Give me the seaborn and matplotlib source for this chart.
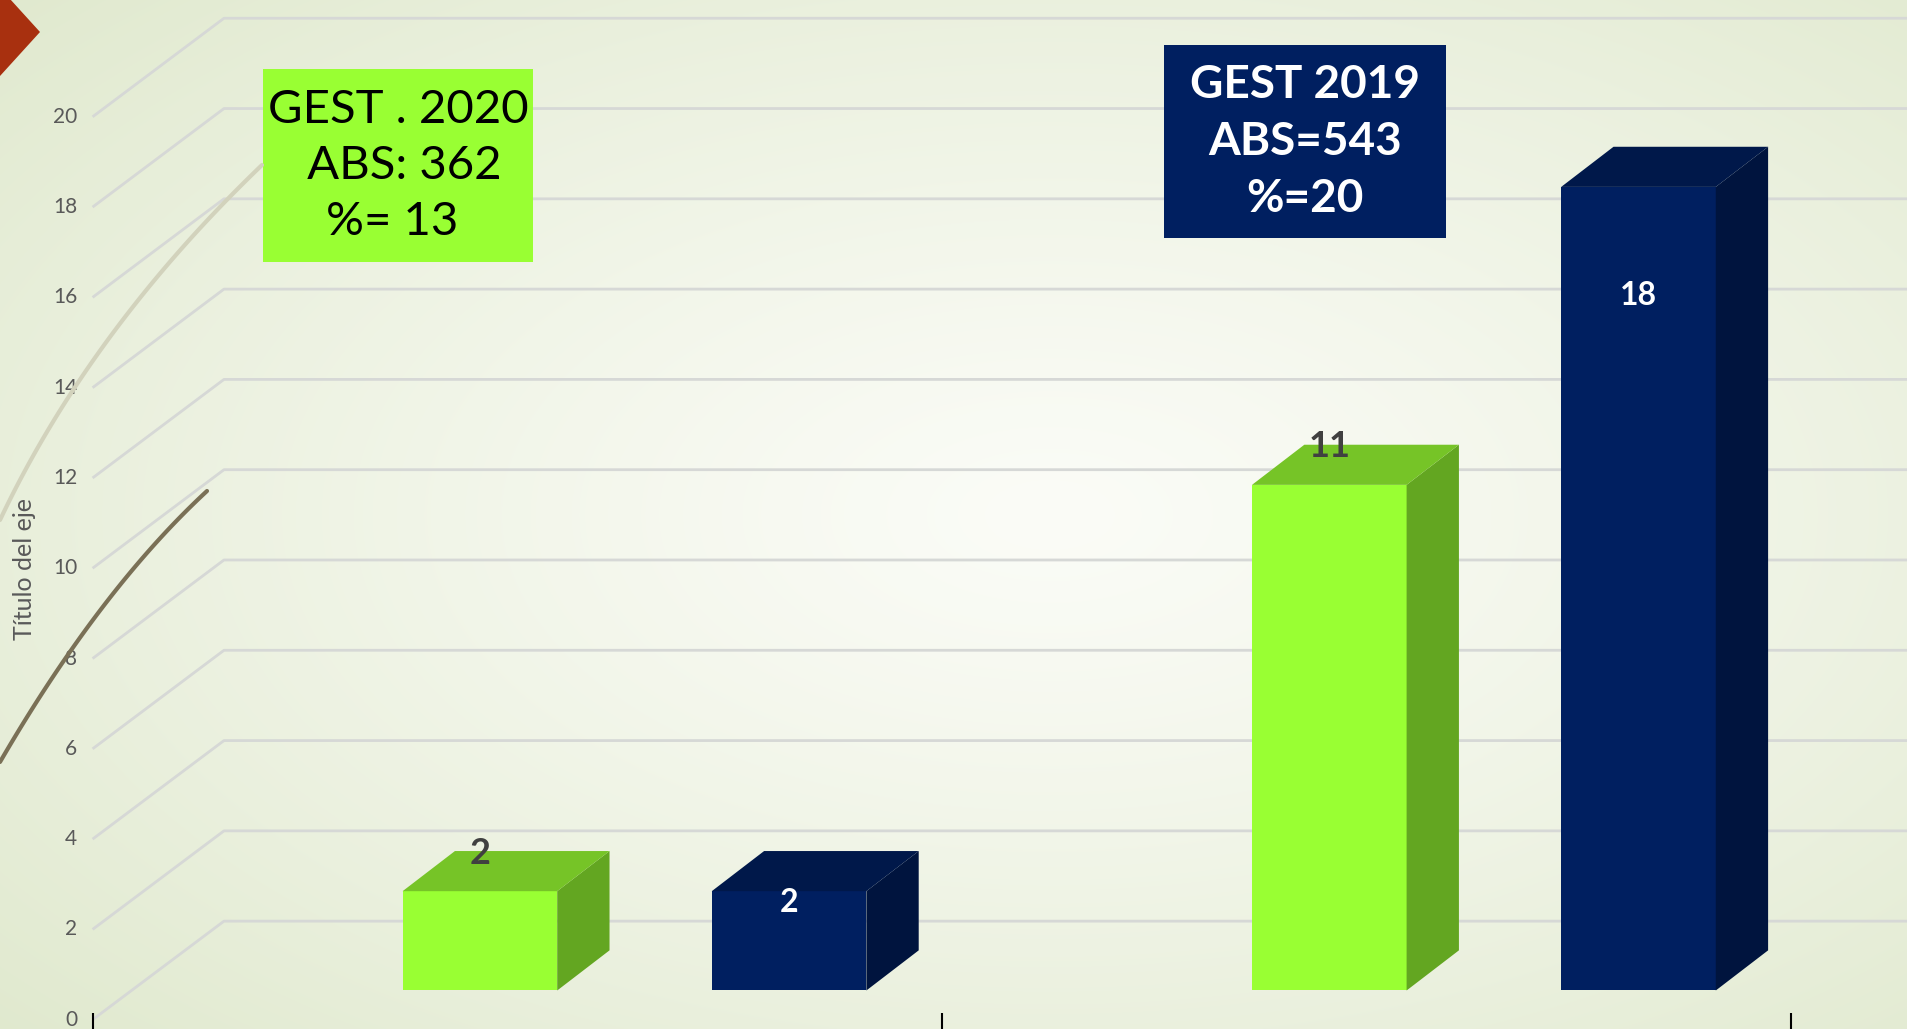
import numpy as np
import pandas as pd
import matplotlib
matplotlib.use("Agg")
import matplotlib.pyplot as plt
from matplotlib.patches import Polygon, Rectangle
import seaborn as sns

# data (bar heights, rounded labels shown on the bars)
grupos = ["Grupo 1", "Grupo 2"]
serie_2020 = [2.2, 11.2]
serie_2019 = [2.2, 17.8]
etiquetas_2020 = ["2", "11"]
etiquetas_2019 = ["2", "18"]
yticks = list(range(0, 21, 2))

texto_2020 = "GEST . 2020\n ABS: 362\n%= 13 "
texto_2019 = "GEST 2019\nABS=543\n%=20"

verde = "#99FF33"
azul = "#001F60"

W, H = 1908, 1029

sns.set_theme(style="white")
plt.rcParams["font.family"] = ["Lato", "DejaVu Sans"]

fig = plt.figure(figsize=(W / 100, H / 100), dpi=100)

# background: soft radial gradient like the slide theme
bg = fig.add_axes([0, 0, 1, 1], zorder=0)
yy, xx = np.mgrid[0:H, 0:W]
d = np.sqrt(((xx - 0.55 * W) / (0.75 * W)) ** 2 + ((yy - 0.5 * H) / (0.75 * H)) ** 2)
d = np.clip(d, 0, 1)[..., None] ** 1.2
c0 = np.array([251, 252, 247]) / 255
c1 = np.array([224, 233, 206]) / 255
bg.imshow(c0 * (1 - d) + c1 * d, aspect="auto", extent=[0, W, 0, H])
bg.set_xlim(0, W)
bg.set_ylim(0, H)
bg.axis("off")

ax = fig.add_axes([0, 0, 1, 1], zorder=1)
ax.patch.set_alpha(0)

df = pd.DataFrame({
    "grupo": grupos * 2,
    "valor": serie_2020 + serie_2019,
    "serie": ["2020"] * 2 + ["2019"] * 2,
})
sns.barplot(data=df, x="grupo", y="valor", hue="serie", palette=[verde, azul],
            saturation=1, width=0.728, gap=0.5, ax=ax, legend=False, zorder=3,
            linewidth=0, err_kws={"linewidth": 0})

ax.set_xlim(-0.747, 1.4993)
ax.set_ylim(-0.853, 21.94)
ax.axis("off")

# pseudo 3D geometry (oblique projection like the Excel chart)
x0, v0 = -0.638, -0.647      # front corner of floor / left wall
dc, dv = 0.1547, 2.183       # wall depth
bc, bv = 0.0616, 0.889       # bar depth

for t in yticks:
    ax.plot([x0, x0 + dc, 1.6], [t + v0, t + v0 + dv, t + v0 + dv],
            color="#d6d8d6", lw=2, zorder=1, solid_capstyle="butt")
    ax.text(x0 - 0.018, t + v0, str(t), ha="right", va="center",
            fontsize=15, color="#595959")

ax.vlines([x0, x0 + 1, x0 + 2], -1, v0 + 0.15, color="black", lw=1.5, zorder=2)

etiquetas = etiquetas_2020 + etiquetas_2019
for i, p in enumerate(ax.patches):
    x, w, h = p.get_x(), p.get_width(), p.get_height()
    fc = np.array(p.get_facecolor()[:3])
    side = Polygon([(x + w, 0), (x + w + bc, bv), (x + w + bc, h + bv), (x + w, h)],
                   closed=True, facecolor=fc * 0.65, edgecolor="none", zorder=3)
    top = Polygon([(x, h), (x + bc, h + bv), (x + w + bc, h + bv), (x + w, h)],
                  closed=True, facecolor=fc * 0.77, edgecolor="none", zorder=3)
    ax.add_patch(side)
    ax.add_patch(top)
    if i < 2:
        ax.text(x + w / 2, h + 0.84, etiquetas[i], ha="center", va="center",
                fontsize=26, fontweight="bold", color="#404040", zorder=5)
    else:
        dy = -0.25 if h < 5 else -2.4
        ax.text(x + w / 2, h + dy, etiquetas[i], ha="center", va="center",
                fontsize=23, fontweight="bold", color="white", zorder=5)

# info boxes
deco = fig.add_axes([0, 0, 1, 1], zorder=2)
deco.set_xlim(0, W)
deco.set_ylim(H, 0)
deco.axis("off")
deco.patch.set_alpha(0)

deco.add_patch(Rectangle((263, 69), 270, 193, facecolor=verde, edgecolor="none"))
deco.text(398, 166, texto_2020, ha="center", va="center", fontsize=34,
          color="black", linespacing=1.42)
deco.add_patch(Rectangle((1164, 45), 282, 193, facecolor=azul, edgecolor="none"))
deco.text(1305, 142, texto_2019, ha="center", va="center", fontsize=33,
          fontweight="bold", color="white", linespacing=1.45)

# theme decorations: red arrow and swooshes on the left
deco.add_patch(Polygon([(0, -12), (40, 32), (0, 76)], closed=True,
                       facecolor="#A8300F", edgecolor="none"))
s = np.linspace(0, 1, 60)
p0, p1, p2 = np.array([0, 520]), np.array([90, 330]), np.array([262, 165])
curva = (1 - s)[:, None] ** 2 * p0 + 2 * ((1 - s) * s)[:, None] * p1 + s[:, None] ** 2 * p2
deco.plot(curva[:, 0], curva[:, 1], color="#d2d2bc", lw=3)
p0, p1, p2 = np.array([0, 762]), np.array([100, 590]), np.array([207, 491])
curva = (1 - s)[:, None] ** 2 * p0 + 2 * ((1 - s) * s)[:, None] * p1 + s[:, None] ** 2 * p2
deco.plot(curva[:, 0], curva[:, 1], color="#7a7056", lw=3)

fig.text(24 / W, 1 - 569 / H, "Título del eje", rotation=90, ha="center",
         va="center", fontsize=18, color="#595959")

fig.savefig("out.png", dpi=100)
